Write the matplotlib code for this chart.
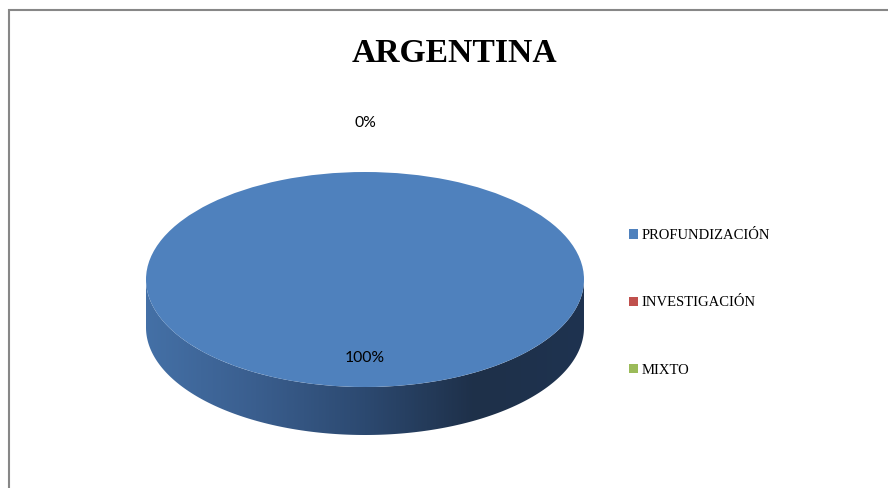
import numpy as np
import matplotlib
matplotlib.use("Agg")
import matplotlib.pyplot as plt
from matplotlib.patches import Rectangle, Polygon
from matplotlib.colors import LinearSegmentedColormap

# ---- data ----
title = "ARGENTINA"
categories = ["PROFUNDIZACIÓN", "INVESTIGACIÓN", "MIXTO"]
values = [100, 0, 0]
colors = ["#4F81BD", "#C0504D", "#9BBB59"]
side_stops = [["#4470A6", "#3A5E8E", "#2C4970", "#1E3049", "#1F3350"],
              ["#9A3A38", "#8A3331", "#75292A", "#5E2120", "#612322"],
              ["#7D9A45", "#718C3E", "#627A35", "#52662C", "#54692D"]]

W, H = 888, 488
fig = plt.figure(figsize=(W / 100, H / 100), dpi=100)
fig.patch.set_facecolor("white")

# outer chart border (top-left visible)
fig.add_artist(Rectangle((8.5 / W, -0.1), 2.0, (H - 9.5) / H + 0.1,
                         transform=fig.transFigure, fill=False,
                         edgecolor="#878787", linewidth=1.5))

fig.text(454 / W, 1 - 53 / H, title, ha="center", va="center",
         fontsize=24.2, fontweight="bold", family="Liberation Serif", color="black")

# pie axes: top face ellipse x 146..584, y 172..387, side down to 435
px_left, px_right, px_top, px_bot = 146, 584, 172, 435
ry = (387 - 172) / 2
depth = (435 - 387) / ry
ax = fig.add_axes([px_left / W, 1 - px_bot / H, (px_right - px_left) / W, (px_bot - px_top) / H])

wedges, _ = ax.pie(values, colors=colors, startangle=90, counterclock=False,
                   wedgeprops=dict(linewidth=0, edgecolor="none"), normalize=True)
for w in wedges:
    w.set_zorder(3)
ax.set_aspect("auto")
ax.set_xlim(-1, 1)
ax.set_ylim(-1 - depth, 1)
ax.axis("off")

# 3D side for the front half
grad = np.linspace(0, 1, 400).reshape(1, -1)
for w, stops in zip(wedges, side_stops):
    a, b = w.theta1, w.theta2
    if b - a <= 0:
        continue
    cmap = LinearSegmentedColormap.from_list("side", stops)
    for k in range(-2, 3):
        lo, hi = max(a, 180 + 360 * k), min(b, 360 + 360 * k)
        if hi <= lo:
            continue
        t = np.radians(np.linspace(lo, hi, 200))
        top = np.column_stack([np.cos(t), np.sin(t)])
        bot = np.column_stack([np.cos(t[::-1]), np.sin(t[::-1]) - depth])
        poly = Polygon(np.vstack([top, bot]), closed=True, facecolor="none",
                       edgecolor="none", transform=ax.transData)
        ax.add_patch(poly)
        im = ax.imshow(grad, cmap=cmap, extent=(-1, 1, -1 - depth, 0),
                       aspect="auto", zorder=2, interpolation="bilinear")
        im.set_clip_path(poly)
ax.set_xlim(-1, 1)
ax.set_ylim(-1 - depth, 1)

# percentage labels (identical overlapping labels drawn once)
total = sum(values)
seen = set()
for w, v in zip(wedges, values):
    mid = np.radians((w.theta1 + w.theta2) / 2)
    r = 0.73 if v > 0 else 1.46
    x, y = r * np.cos(mid), r * np.sin(mid)
    s = f"{round(100 * v / total)}%"
    key = (round(x, 3), round(y, 3), s)
    if key in seen:
        continue
    seen.add(key)
    ax.text(x, y, s, ha="center", va="center", fontsize=11.3, family="Lato",
            color="black", zorder=5, clip_on=False)

fig.legend(wedges, categories, loc="center left",
           bbox_to_anchor=(629 / W, 1 - 303 / H), frameon=False,
           prop=dict(family="Liberation Serif", size=10.5),
           handlelength=0.65, handleheight=0.65, handletextpad=0.2,
           labelspacing=3.72, borderpad=0, borderaxespad=0)

fig.savefig("out.png", dpi=100, facecolor="white")
